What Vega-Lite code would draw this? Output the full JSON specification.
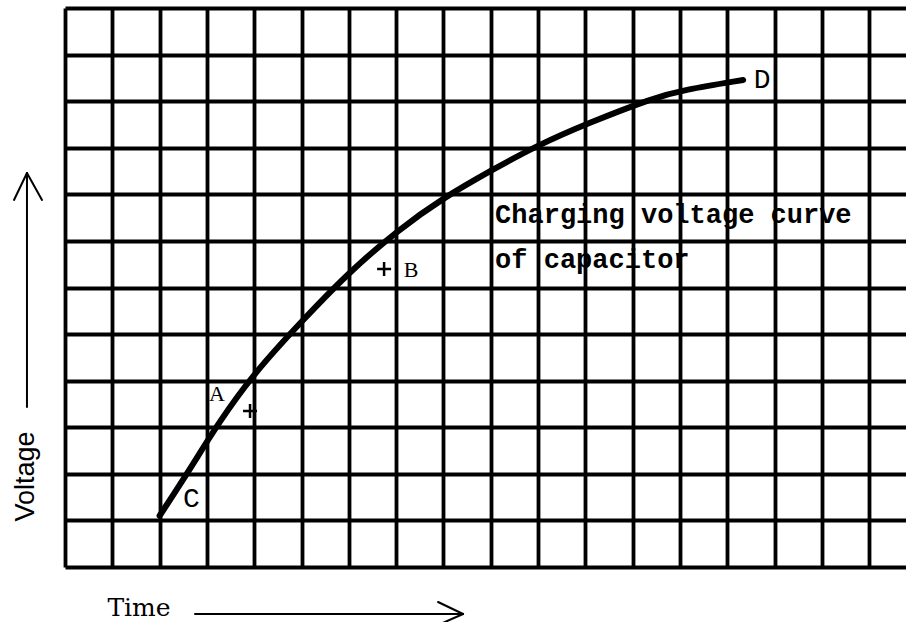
{
  "$schema": "https://vega.github.io/schema/vega-lite/v6.json",
  "width": 841,
  "height": 559,
  "autosize": {"type": "none"},
  "padding": {"left": 65, "top": 8, "right": 0, "bottom": 55},
  "background": "white",
  "config": {"view": {"stroke": null}},
  "datasets": {
    "curve": [
      {"x": 2.0, "y": 1.1},
      {"x": 2.643, "y": 2.1},
      {"x": 3.214, "y": 3.049},
      {"x": 3.997, "y": 4.165},
      {"x": 4.99, "y": 5.26},
      {"x": 5.984, "y": 6.312},
      {"x": 7.042, "y": 7.235},
      {"x": 7.993, "y": 7.92},
      {"x": 8.987, "y": 8.5},
      {"x": 10.002, "y": 9.06},
      {"x": 11.06, "y": 9.53},
      {"x": 12.434, "y": 10.069},
      {"x": 13.068, "y": 10.24},
      {"x": 14.337, "y": 10.455}
    ],
    "vborders": [{"x": 0}, {"x": 2}],
    "hborders": [{"y": 0}, {"y": 12}],
    "arrows": [
      {"part": "voltage shaft", "x": -0.804, "y": 3.435, "x2": -0.804, "y2": 8.459},
      {"part": "voltage head left", "x": -0.804, "y": 8.459, "x2": -1.078, "y2": 7.879},
      {"part": "voltage head right", "x": -0.804, "y": 8.459, "x2": -0.486, "y2": 7.879},
      {"part": "time shaft", "x": 2.749, "y": -1.009, "x2": 8.416, "y2": -1.009},
      {"part": "time head up", "x": 8.416, "y": -1.009, "x2": 7.887, "y2": -0.751},
      {"part": "time head down", "x": 8.416, "y": -1.009, "x2": 7.887, "y2": -1.245}
    ],
    "caption": [
      {"text": "Charging voltage curve", "x": 9.093, "y": 7.385},
      {"text": "of capacitor", "x": 9.093, "y": 6.419}
    ],
    "serifLabels": [
      {"text": "A", "x": 3.214, "y": 3.564},
      {"text": "B", "x": 7.317, "y": 6.226}
    ],
    "monoLabels": [
      {"text": "C", "x": 2.675, "y": 1.288},
      {"text": "D", "x": 14.737, "y": 10.283}
    ],
    "plus": [
      {"label": "A", "x": 3.912, "y": 3.349},
      {"label": "B", "x": 6.746, "y": 6.398}
    ]
  },
  "encoding": {
    "x": {
      "field": "x", "type": "quantitative",
      "scale": {"domain": [0, 17.78], "nice": false, "zero": false},
      "axis": {
        "values": [0,1,2,3,4,5,6,7,8,9,10,11,12,13,14,15,16,17],
        "grid": true, "gridColor": "black", "gridWidth": 3.8, "gridOpacity": 1,
        "domain": false, "ticks": false, "labels": false,
        "title": "Time",
        "titleFont": "DejaVu Serif", "titleFontSize": 25, "titleFontWeight": "normal", "titleColor": "black",
        "titleX": 73.5, "titleY": 48, "titleAlign": "center", "titleBaseline": "alphabetic"
      }
    },
    "y": {
      "field": "y", "type": "quantitative",
      "scale": {"domain": [0, 12], "nice": false, "zero": false},
      "axis": {
        "values": [0,1,2,3,4,5,6,7,8,9,10,11,12],
        "grid": true, "gridColor": "black", "gridWidth": 3.8, "gridOpacity": 1,
        "domain": false, "ticks": false, "labels": false,
        "title": "Voltage",
        "titleFont": "Liberation Sans", "titleFontSize": 27, "titleFontWeight": "normal", "titleColor": "black",
        "titleAngle": -90, "titleX": -32, "titleY": 468, "titleAlign": "center", "titleBaseline": "alphabetic"
      }
    }
  },
  "layer": [
    {
      "data": {"name": "vborders"},
      "mark": {"type": "rule", "color": "black", "strokeWidth": 6},
      "encoding": {"y": {"datum": 0}, "y2": {"datum": 12}}
    },
    {
      "data": {"name": "hborders"},
      "mark": {"type": "rule", "color": "black", "strokeWidth": 6},
      "encoding": {"x": {"datum": 0}, "x2": {"datum": 17.78}}
    },
    {
      "data": {"name": "curve"},
      "mark": {"type": "line", "color": "black", "strokeWidth": 6, "strokeCap": "round", "interpolate": "basis"}
    },
    {
      "data": {"name": "arrows"},
      "mark": {"type": "rule", "color": "black", "strokeWidth": 2, "strokeCap": "round"},
      "encoding": {"x2": {"field": "x2"}, "y2": {"field": "y2"}}
    },
    {
      "data": {"name": "caption"},
      "mark": {"type": "text", "font": "Liberation Mono", "fontSize": 27, "fontWeight": "bold", "align": "left", "baseline": "alphabetic", "color": "black"},
      "encoding": {"text": {"field": "text"}}
    },
    {
      "data": {"name": "serifLabels"},
      "mark": {"type": "text", "font": "Liberation Serif", "fontSize": 22, "align": "center", "baseline": "alphabetic", "color": "black"},
      "encoding": {"text": {"field": "text"}}
    },
    {
      "data": {"name": "monoLabels"},
      "mark": {"type": "text", "font": "Liberation Mono", "fontSize": 28, "align": "center", "baseline": "alphabetic", "color": "black"},
      "encoding": {"text": {"field": "text"}}
    },
    {
      "data": {"name": "plus"},
      "mark": {"type": "point", "shape": "M-1,0H1M0,-1V1", "size": 196, "stroke": "black", "strokeWidth": 2.5, "filled": false, "opacity": 1}
    }
  ]
}
